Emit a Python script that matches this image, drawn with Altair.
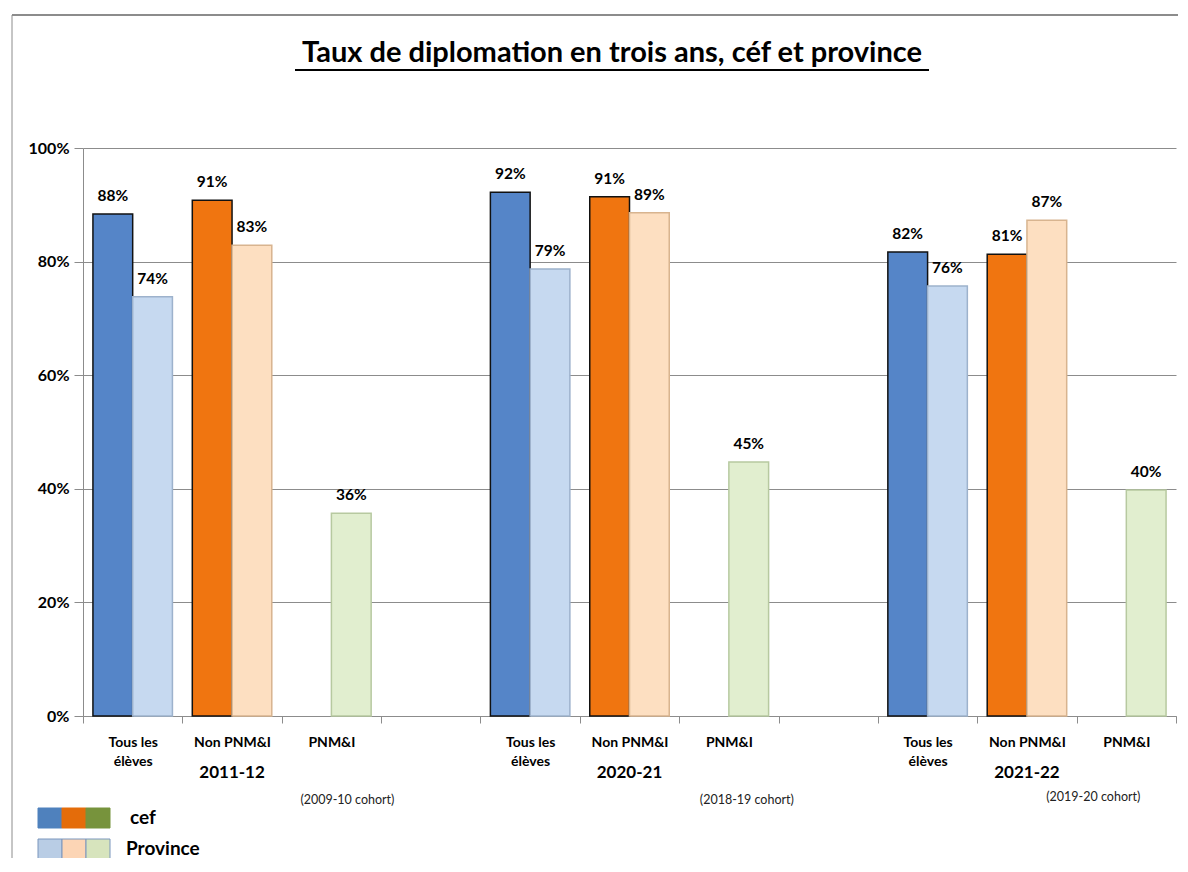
import json
import altair as alt
import pandas as pd

# ---------------- data ----------------
years = ["2011-12", "2020-21", "2021-22"]
cohorts = ["(2009-10 cohort)", "(2018-19 cohort)", "(2019-20 cohort)"]
categories = ["Tous les élèves", "Non PNM&I", "PNM&I"]
category_lines = [["Tous les", "élèves"], ["Non PNM&I"], ["PNM&I"]]
series = ["cef", "Province"]
cef_values = [[0.884, 0.908, None], [0.922, 0.914, None], [0.817, 0.813, None]]
province_values = [[0.738, 0.829, 0.357], [0.787, 0.886, 0.447], [0.757, 0.873, 0.398]]

cef_colors = ["#5585C8", "#F07510", "#77933C"]
province_colors = ["#C6D9F0", "#FDDFC1", "#E1EECF"]
province_strokes = ["#9DB2CC", "#D8B48F", "#B7C9A0"]
legend_cef = ["#4F81BD", "#E46C0A", "#77933C"]
legend_province = ["#B9CDE5", "#FCD5B5", "#D7E4BD"]

FONT = "Lato"
W, H = 1093, 568

# build table (slot = group*4 + category; one empty slot between groups)
rows = []
slot_labels = []
for g, yr in enumerate(years):
    for c, cat in enumerate(categories):
        slot = g * 4 + c
        if cef_values[g][c] is not None:
            rows.append(dict(slot=slot, series="cef", category=cat, year=yr,
                             value=cef_values[g][c], fill=cef_colors[c], stroke="#111111"))
        if province_values[g][c] is not None:
            rows.append(dict(slot=slot, series="Province", category=cat, year=yr,
                             value=province_values[g][c], fill=province_colors[c],
                             stroke=province_strokes[c]))
    slot_labels += category_lines
    if g < len(years) - 1:
        slot_labels.append([""])
n_slots = len(slot_labels)
df = pd.DataFrame(rows)

label_expr = json.dumps(slot_labels, ensure_ascii=False) + "[datum.value]"

x_enc = alt.X(
    "slot:O",
    scale=alt.Scale(domain=list(range(n_slots)), paddingInner=0, paddingOuter=0),
    axis=alt.Axis(
        title=None, labelExpr=label_expr, labelAngle=0, tickBand="extent",
        labelFont=FONT, labelFontWeight="bold", labelFontSize=14, labelColor="#000",
        labelLineHeight=19, labelPadding=12, labelBaseline="top",
        domainColor="#8c8c8c", tickColor="#8c8c8c", tickSize=7, grid=False,
    ),
)
xo_enc = alt.XOffset("series:N", scale=alt.Scale(domain=series, paddingInner=0, paddingOuter=0.25))
y_enc = alt.Y(
    "value:Q",
    scale=alt.Scale(domain=[0, 1], nice=False),
    axis=alt.Axis(
        title=None, values=[0, 0.2, 0.4, 0.6, 0.8, 1.0], format=".0%",
        labelFont=FONT, labelFontWeight="bold", labelFontSize=16, labelColor="#000",
        labelPadding=5, tickSize=9, tickColor="#8c8c8c", domainColor="#8c8c8c",
        gridColor="#8c8c8c", gridWidth=1,
    ),
)

base = alt.Chart(df)
bars = base.mark_bar(strokeWidth=1.5).encode(
    x=x_enc, xOffset=xo_enc, y=y_enc,
    fill=alt.Fill("fill:N", scale=None),
    stroke=alt.Stroke("stroke:N", scale=None),
)
bar_labels = base.mark_text(
    dy=-18, baseline="middle", font=FONT, fontWeight="bold", fontSize=15.5, color="#000"
).encode(x="slot:O", xOffset=xo_enc, y="value:Q", text=alt.Text("value:Q", format=".0%"))

# group (year) labels
year_df = pd.DataFrame({"year": years, "slot": [g * 4 + 1 for g in range(len(years))]})
year_labels = alt.Chart(year_df).mark_text(
    font=FONT, fontWeight="bold", fontSize=17, color="#000", baseline="middle"
).encode(x="slot:O", y=alt.value(H + 57), text="year:N")

layers = [bars, bar_labels, year_labels]

# cohort labels
cohort_dx = [16, 18, -33]
for g, coh in enumerate(cohorts):
    cdf = pd.DataFrame({"cohort": [coh], "slot": [g * 4 + 2]})
    layers.append(
        alt.Chart(cdf).mark_text(
            font=FONT, fontSize=12.5, color="#222", baseline="middle", dx=cohort_dx[g]
        ).encode(x="slot:O", y=alt.value(H + 84 - (3 if g == 2 else 0)), text="cohort:N")
    )

# title with underline
title_df = pd.DataFrame({"t": ["Taux de diplomation en trois ans, céf et province"]})
layers.append(
    alt.Chart(title_df).mark_text(
        font=FONT, fontWeight="bold", fontSize=29, color="#000", baseline="middle", align="center"
    ).encode(x=alt.value(529), y=alt.value(-95), text="t:N")
)
layers.append(
    alt.Chart(title_df).mark_rule(color="#000", strokeWidth=2).encode(
        x=alt.value(212), x2=alt.value(846), y=alt.value(-78)
    )
)

# outer frame lines
frame_df = pd.DataFrame({"k": [0]})
layers.append(
    alt.Chart(frame_df).mark_rule(color="#8c8c8c", strokeWidth=2).encode(
        x=alt.value(-71), x2=alt.value(W + 2), y=alt.value(-133)
    )
)
layers.append(
    alt.Chart(frame_df).mark_rule(color="#8c8c8c", strokeWidth=1).encode(
        x=alt.value(-71), y=alt.value(-133), y2=alt.value(H + 150)
    )
)

# legend
sw = 24
for r, (name, cols) in enumerate([("cef", legend_cef), ("Province", legend_province)]):
    y0 = H + 92 + r * 31
    for i, col in enumerate(cols):
        layers.append(
            alt.Chart(frame_df).mark_rect(
                fill=col, stroke="#7a96bd" if r == 1 else col, strokeWidth=1
            ).encode(
                x=alt.value(-45 + i * sw), x2=alt.value(-45 + (i + 1) * sw),
                y=alt.value(y0), y2=alt.value(y0 + 20),
            )
        )
    ldf = pd.DataFrame({"name": [name]})
    layers.append(
        alt.Chart(ldf).mark_text(
            font=FONT, fontWeight="bold", fontSize=19, color="#000",
            align="left", baseline="middle"
        ).encode(x=alt.value(47 if r == 0 else 43), y=alt.value(y0 + 10), text="name:N")
    )

chart = alt.layer(*layers).properties(
    width=W, height=H,
    background="white",
    autosize=alt.AutoSizeParams(type="none"),
    padding={"left": 75, "top": 140, "right": 2, "bottom": 142},
).configure_view(stroke="transparent", strokeWidth=0, strokeOpacity=0)

chart.save("out.html", embed_options={"renderer": "svg", "actions": False})
